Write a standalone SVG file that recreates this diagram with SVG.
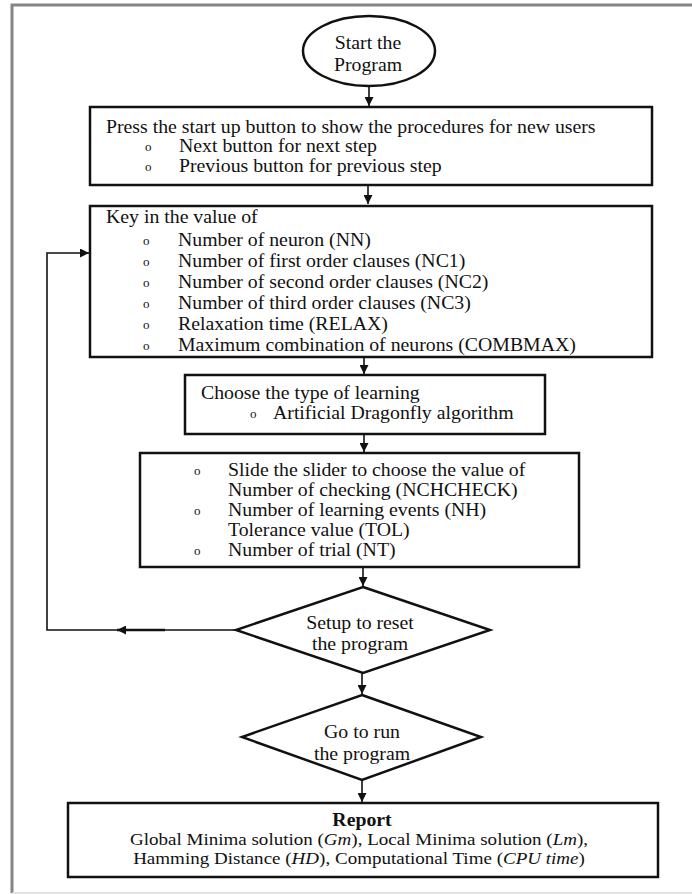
<svg xmlns="http://www.w3.org/2000/svg" width="692" height="894" viewBox="0 0 692 894">
<style>
text{font-family:"Liberation Serif","Times New Roman",serif;font-size:18px;fill:#111}
.b{fill:#fff;stroke:#111;stroke-width:2.5}
.c{fill:none;stroke:#111;stroke-width:1.6}
.bul{font-size:13px}
.mid{text-anchor:middle}
.r{font-size:17px}
</style>
<defs>
<marker id="ah" viewBox="0 0 10 10" refX="10" refY="5" markerWidth="9" markerHeight="9" markerUnits="userSpaceOnUse" orient="auto">
<path d="M0,0 L10,5 L0,10 z" fill="#111"/>
</marker>
</defs>
<rect x="0" y="0" width="692" height="894" fill="#fff"/>
<path d="M12,893 L12,5 L692,5" fill="none" stroke="#858585" stroke-width="3"/>
<line x1="12" y1="893" x2="692" y2="893" stroke="#d8d8d8" stroke-width="1.5"/>

<g id="connectors">
<line class="c" x1="369" y1="86" x2="369" y2="106" marker-end="url(#ah)"/>
<line class="c" x1="368" y1="185" x2="368" y2="204" marker-end="url(#ah)"/>
<line class="c" x1="364" y1="357" x2="364" y2="374" marker-end="url(#ah)"/>
<line class="c" x1="364" y1="434" x2="364" y2="452" marker-end="url(#ah)"/>
<line class="c" x1="363" y1="567" x2="363" y2="586" marker-end="url(#ah)"/>
<line class="c" x1="362" y1="673" x2="362" y2="694" marker-end="url(#ah)"/>
<line class="c" x1="362" y1="780" x2="362" y2="802" marker-end="url(#ah)"/>
<line class="c" x1="236" y1="630" x2="165" y2="630"/>
<line x1="165" y1="630" x2="117" y2="630" stroke="#111" stroke-width="2.5" marker-end="url(#ah)"/>
<path class="c" d="M117,630 L47,630 L47,253 L89,253" marker-end="url(#ah)"/>
</g>

<g id="start">
<ellipse class="b" cx="369" cy="51" rx="66" ry="35" stroke-width="1.6"/>
<text class="mid" transform="translate(368,49) scale(1.1,1)">Start the</text>
<text class="mid" transform="translate(368,71) scale(1.1,1)">Program</text>
</g>

<g id="startup">
<rect class="b" x="90" y="107" width="562" height="78"/>
<text transform="translate(106,133) scale(1.1,1)">Press the start up button to show the procedures for new users</text>
<text class="bul" x="145" y="151">o</text><text transform="translate(179,152) scale(1.1,1)">Next button for next step</text>
<text class="bul" x="145" y="171">o</text><text transform="translate(179,172) scale(1.1,1)">Previous button for previous step</text>
</g>

<g id="keyin">
<rect class="b" x="90" y="206" width="562" height="151"/>
<text transform="translate(106,223) scale(1.1,1)">Key in the value of</text>
<text class="bul" x="143" y="245">o</text><text transform="translate(178,246) scale(1.1,1)">Number of neuron (NN)</text>
<text class="bul" x="143" y="266">o</text><text transform="translate(178,267) scale(1.1,1)">Number of first order clauses (NC1)</text>
<text class="bul" x="143" y="287">o</text><text transform="translate(178,288) scale(1.1,1)">Number of second order clauses (NC2)</text>
<text class="bul" x="143" y="308">o</text><text transform="translate(178,309) scale(1.1,1)">Number of third order clauses (NC3)</text>
<text class="bul" x="143" y="329">o</text><text transform="translate(178,330) scale(1.1,1)">Relaxation time (RELAX)</text>
<text class="bul" x="143" y="350">o</text><text transform="translate(178,351) scale(1.1,1)">Maximum combination of neurons (COMBMAX)</text>
</g>

<g id="learning">
<rect class="b" x="185" y="375" width="360" height="59"/>
<text transform="translate(201,399) scale(1.1,1)">Choose the type of learning</text>
<text class="bul" x="250" y="418">o</text><text transform="translate(273,419) scale(1.1,1)">Artificial Dragonfly algorithm</text>
</g>

<g id="slider">
<rect class="b" x="140" y="453" width="439" height="114"/>
<text class="bul" x="194" y="475">o</text><text transform="translate(228,476) scale(1.1,1)">Slide the slider to choose the value of</text>
<text transform="translate(228,496) scale(1.1,1)">Number of checking (NCHCHECK)</text>
<text class="bul" x="194" y="515">o</text><text transform="translate(228,516) scale(1.1,1)">Number of learning events (NH)</text>
<text transform="translate(228,536) scale(1.1,1)">Tolerance value (TOL)</text>
<text class="bul" x="194" y="555">o</text><text transform="translate(228,556) scale(1.1,1)">Number of trial (NT)</text>
</g>

<g id="reset">
<polygon class="b" points="363,587 490,630 363,673 236,630" stroke-width="1.6"/>
<text class="mid" transform="translate(360,629) scale(1.1,1)">Setup to reset</text>
<text class="mid" transform="translate(360,650) scale(1.1,1)">the program</text>
</g>

<g id="run">
<polygon class="b" points="362,695 481,737 362,780 242,737" stroke-width="1.6"/>
<text class="mid" transform="translate(362,738) scale(1.1,1)">Go to run</text>
<text class="mid" transform="translate(362,760) scale(1.1,1)">the program</text>
</g>

<g id="report">
<rect class="b" x="68" y="803" width="590" height="74"/>
<text class="mid" font-weight="bold" transform="translate(362,826) scale(1.1,1)">Report</text>
<text class="mid r" transform="translate(359,845) scale(1.12,1)">Global Minima solution (<tspan font-style="italic">Gm</tspan>), Local Minima solution (<tspan font-style="italic">Lm</tspan>),</text>
<text class="mid r" transform="translate(359,864) scale(1.12,1)">Hamming Distance (<tspan font-style="italic">HD</tspan>), Computational Time (<tspan font-style="italic">CPU time</tspan>)</text>
</g>
</svg>
